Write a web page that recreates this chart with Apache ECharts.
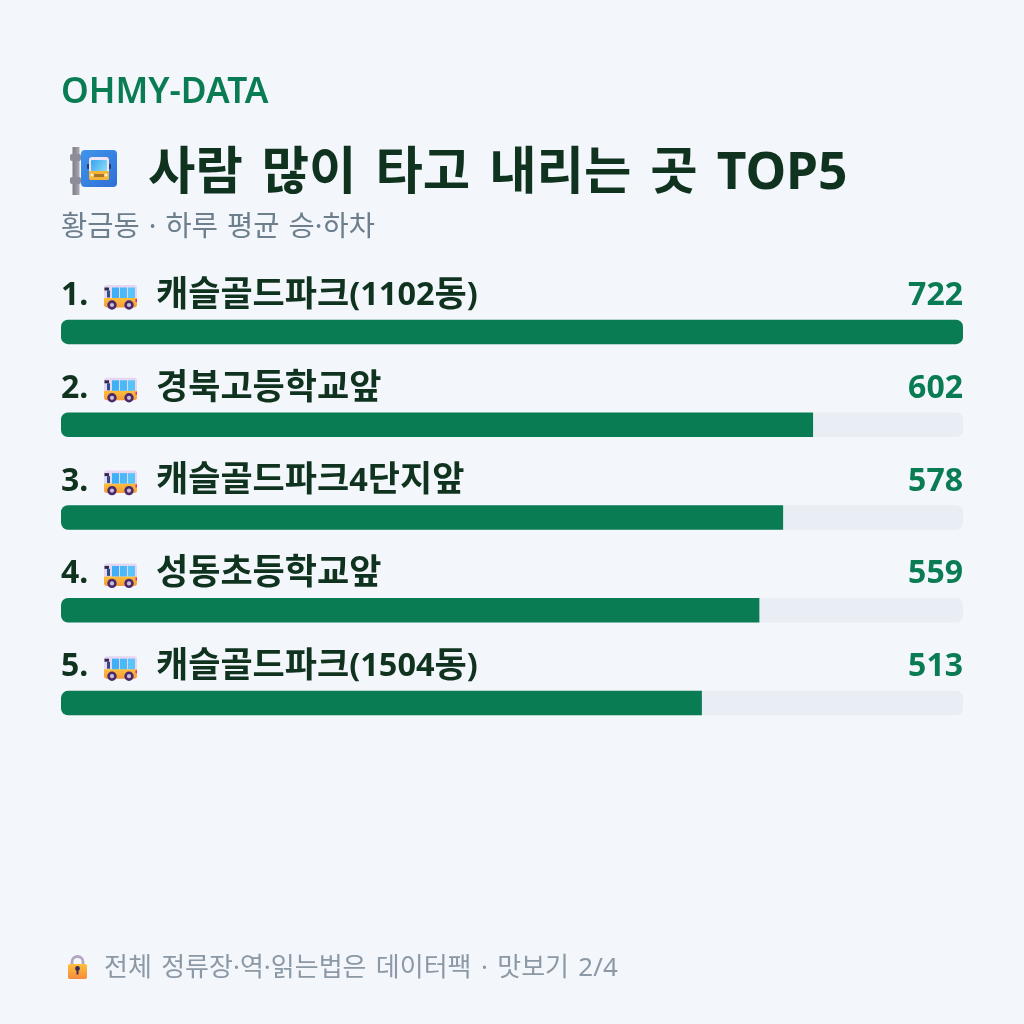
<!DOCTYPE html>
<html lang="ko">
<head>
<meta charset="utf-8">
<title>사람 많이 타고 내리는 곳 TOP5</title>
<style>html,body{margin:0;padding:0;background:#f3f6fb}#chart{width:1024px;height:1024px}</style>
<script src="https://cdn.jsdelivr.net/npm/echarts@6/dist/echarts.min.js"></script>
</head>
<body>
<div id="chart"></div>
<script>
// Busiest stops in the neighbourhood, average daily boardings and alightings
const ranks = ['1.', '2.', '3.', '4.', '5.'];
const stops = ['캐슬골드파크(1102동)', '경북고등학교앞', '캐슬골드파크4단지앞', '성동초등학교앞', '캐슬골드파크(1504동)'];
const riders = [722, 602, 578, 559, 513];

const brandText = 'OHMY-DATA';
const headingText = '사람 많이 타고 내리는 곳 TOP5';
const subheadingText = '황금동 · 하루 평균 승·하차';
const footerText = '전체 정류장·역·읽는법은 데이터팩 · 맛보기 2/4';

const GREEN = '#0a7c54';
const INK = '#10331f';
const FONT = '"Noto Sans", "Noto Sans CJK KR", sans-serif';

const GRID = { left: 61, top: 285.5, width: 902, height: 464 };
const ROW = GRID.height / riders.length;

// Small bus pictogram placed beside each stop name
function busIcon(x, y) {
  return {
    type: 'group', x, y,
    children: [
      { type: 'rect', shape: { x: 0, y: 0, width: 33, height: 14, r: [3, 3, 0, 0] }, style: { fill: '#e6d6f2' } },
      { type: 'rect', shape: { x: 0, y: 13, width: 33, height: 9.5, r: [0, 0, 3, 3] },
        style: { fill: { type: 'linear', x: 0, y: 0, x2: 0, y2: 1, colorStops: [{ offset: 0, color: '#fdc03a' }, { offset: 1, color: '#f79a3c' }] } } },
      { type: 'rect', shape: { x: 0.5, y: 2.5, width: 4.5, height: 3 }, style: { fill: '#2f2a4a' } },
      { type: 'rect', shape: { x: 3, y: 5.5, width: 3, height: 7 }, style: { fill: '#2a4f8a' } },
      { type: 'rect', shape: { x: 8, y: 2.5, width: 7, height: 10.5 }, style: { fill: '#3fb0f5' } },
      { type: 'rect', shape: { x: 16, y: 2.5, width: 7, height: 10.5 }, style: { fill: '#4ab9f7' } },
      { type: 'rect', shape: { x: 24, y: 2.5, width: 7, height: 10.5 }, style: { fill: '#5ac4f9' } },
      { type: 'rect', shape: { x: 31.5, y: 14, width: 1.5, height: 3 }, style: { fill: '#e5267e' } },
      { type: 'circle', shape: { cx: 8, cy: 20, r: 3.4 }, style: { fill: '#cbbfd8', stroke: '#4a2a6a', lineWidth: 2.6 } },
      { type: 'circle', shape: { cx: 25, cy: 20, r: 3.4 }, style: { fill: '#cbbfd8', stroke: '#4a2a6a', lineWidth: 2.6 } }
    ]
  };
}

// Bus stop sign next to the heading
function stopSign(x, y) {
  return {
    type: 'group', x, y,
    children: [
      { type: 'rect', shape: { x: 2.5, y: 0, width: 7, height: 48 },
        style: { fill: { type: 'linear', x: 0, y: 0, x2: 1, y2: 0, colorStops: [{ offset: 0, color: '#7f7c88' }, { offset: 1, color: '#aaa8b2' }] } } },
      { type: 'rect', shape: { x: 0, y: 7, width: 11, height: 7, r: 2 }, style: { fill: '#8e8c97' } },
      { type: 'rect', shape: { x: 0, y: 30, width: 11, height: 7, r: 2 }, style: { fill: '#8e8c97' } },
      { type: 'rect', shape: { x: 11, y: 3, width: 36, height: 37, r: 4 },
        style: { fill: { type: 'linear', x: 0, y: 0, x2: 1, y2: 1, colorStops: [{ offset: 0, color: '#3f95ea' }, { offset: 1, color: '#2f6fd6' }] } } },
      { type: 'rect', shape: { x: 17, y: 17, width: 3, height: 5, r: 1 }, style: { fill: '#2b3a6e' } },
      { type: 'rect', shape: { x: 38, y: 17, width: 3, height: 5, r: 1 }, style: { fill: '#2b3a6e' } },
      { type: 'rect', shape: { x: 19, y: 10, width: 20, height: 23, r: 3 }, style: { fill: '#efe3f6' } },
      { type: 'rect', shape: { x: 21, y: 13, width: 16, height: 11, r: 1 },
        style: { fill: { type: 'linear', x: 0, y: 0, x2: 1, y2: 1, colorStops: [{ offset: 0, color: '#3aa5f0' }, { offset: 1, color: '#8adcf5' }] } } },
      { type: 'rect', shape: { x: 19, y: 24, width: 20, height: 9, r: [0, 0, 2, 2] }, style: { fill: '#f4b63a' } },
      { type: 'rect', shape: { x: 24, y: 27, width: 10, height: 3 }, style: { fill: '#a9742a' } },
      { type: 'circle', shape: { cx: 22, cy: 28, r: 1.6 }, style: { fill: '#fff1c9' } },
      { type: 'circle', shape: { cx: 36, cy: 28, r: 1.6 }, style: { fill: '#fff1c9' } }
    ]
  };
}

// Padlock in front of the footer note
function lockIcon(x, y) {
  return {
    type: 'group', x, y,
    children: [
      { type: 'arc', shape: { cx: 10, cy: 7, r: 5.5, startAngle: Math.PI, endAngle: 0 }, style: { stroke: '#b5a6c4', lineWidth: 2.8, fill: null } },
      { type: 'rect', shape: { x: 3.1, y: 7, width: 2.8, height: 3 }, style: { fill: '#b5a6c4' } },
      { type: 'rect', shape: { x: 14.1, y: 7, width: 2.8, height: 3 }, style: { fill: '#b5a6c4' } },
      { type: 'rect', shape: { x: 0.5, y: 9, width: 19, height: 15, r: 2 },
        style: { fill: { type: 'linear', x: 0, y: 0, x2: 0, y2: 1, colorStops: [{ offset: 0, color: '#fcc13a' }, { offset: 1, color: '#f58a3c' }] } } },
      { type: 'circle', shape: { cx: 10, cy: 13.5, r: 2.4 }, style: { fill: '#3a2a5a' } },
      { type: 'rect', shape: { x: 9, y: 14, width: 2, height: 5.5 }, style: { fill: '#3a2a5a' } }
    ]
  };
}

// Korean lines set word by word so the gaps between words can be sized on their own
function wideSpaced(text) {
  return text.split(' ').map(w => `{t|${w}}`).join('{sp| }');
}

function heading(text, left, top, size, weight, color, spaceSize) {
  return {
    text: wideSpaced(text), left, top, padding: 0,
    textStyle: {
      rich: {
        t: { fontFamily: FONT, fontSize: size, fontWeight: weight, color, lineHeight: size * 1.3 },
        sp: { fontFamily: FONT, fontSize: spaceSize, fontWeight: weight, color, lineHeight: size * 1.3 }
      }
    }
  };
}

// Hangul runs and digit runs in a stop name use slightly different sizes
function stopLabel(name) {
  return name.split(/([가-힣]+)/).filter(Boolean)
    .map(run => /[가-힣]/.test(run) ? `{name|${run}}` : `{latin|${run}}`).join('');
}

const chart = echarts.init(document.getElementById('chart'), null, { renderer: 'canvas' });

chart.setOption({
  animation: false,
  backgroundColor: '#f3f6fb',
  title: [
    heading(brandText, 61, 70.5, 35.3, 600, GREEN, 35),
    heading(headingText, 148, 141, 51.5, 700, INK, 73),
    heading(subheadingText, 61, 209, 28.5, 400, '#6d7f8d', 35),
    heading(footerText, 104, 951.5, 26, 400, '#8b98a5', 36)
  ],
  grid: { left: GRID.left, top: GRID.top, width: GRID.width, height: GRID.height, containLabel: false },
  xAxis: { type: 'value', min: 0, max: 722, show: false },
  yAxis: [
    {
      type: 'category', inverse: true, position: 'left', data: stops,
      axisLine: { show: false }, axisTick: { show: false },
      axisLabel: {
        inside: true, interval: 0, margin: 0, align: 'left',
        padding: [0, 0, 72, 0],
        formatter: (name, i) => `{num|${ranks[i]}}${stopLabel(name)}`,
        rich: {
          num: { width: 95, fontFamily: FONT, fontSize: 32, fontWeight: 700, color: INK },
          name: { fontFamily: FONT, fontSize: 35, fontWeight: 700, color: INK },
          latin: { fontFamily: FONT, fontSize: 32.5, fontWeight: 700, color: INK }
        }
      }
    },
    {
      type: 'category', inverse: true, position: 'right', data: riders.map(String),
      axisLine: { show: false }, axisTick: { show: false },
      axisLabel: {
        inside: true, interval: 0, margin: 0, align: 'right',
        padding: [0, 0, 72, 0],
        formatter: v => `{val|${v}}`,
        rich: { val: { fontFamily: FONT, fontSize: 32, fontWeight: 700, color: GREEN } }
      }
    }
  ],
  series: [{
    type: 'bar',
    data: riders.map(v => ({
      value: v,
      itemStyle: { borderRadius: v === Math.max(...riders) ? 7 : [7, 0, 0, 7] }
    })),
    barWidth: 24.5,
    itemStyle: { color: GREEN },
    showBackground: true,
    backgroundStyle: { color: '#e9edf4', borderRadius: 7 }
  }],
  graphic: {
    elements: [
      stopSign(70, 147),
      lockIcon(67.5, 955),
      ...riders.map((_, i) => busIcon(104, GRID.top + ROW * i - 0.5))
    ]
  }
});
</script>
</body>
</html>
